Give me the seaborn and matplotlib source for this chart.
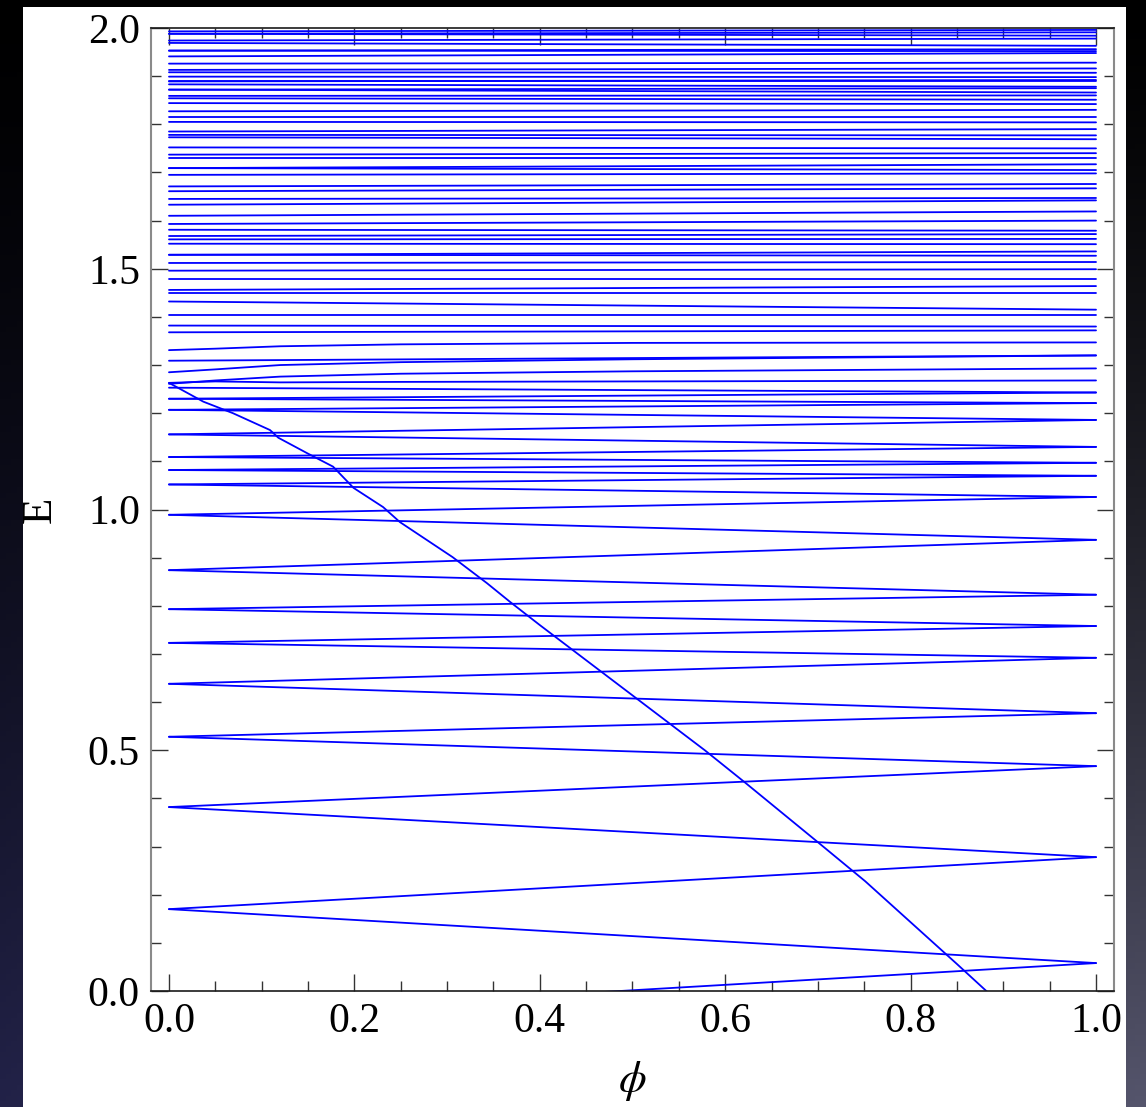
import numpy as np
import pandas as pd
import matplotlib
matplotlib.use("Agg")
import matplotlib.pyplot as plt
import seaborn as sns
from matplotlib.patches import Rectangle

sns.set_theme(style="white")
plt.rcParams["font.family"] = ["Liberation Serif", "DejaVu Serif"]
plt.rcParams["mathtext.fontset"] = "stix"

# ---------------- data ----------------
# lower "zigzag" levels: energies at phi = 0 and at phi = 1
zig_left = [0.170, 0.382, 0.528, 0.638, 0.723, 0.793, 0.874, 0.989,
            1.052, 1.082, 1.109, 1.156, 1.207, 1.230]
zig_right = [0.058, 0.278, 0.467, 0.577, 0.692, 0.758, 0.823, 0.937,
             1.026, 1.070, 1.097, 1.130, 1.186, 1.221, 1.243]

# bottom line entering from below zero
bottom_left = -0.055
bottom_right = 0.058

# dense upper levels: energy at phi = 0 and at phi = 1 for each line
upper_start = [1.993, 1.988, 1.988, 1.974, 1.969, 1.953, 1.953, 1.941, 1.926, 1.913,
               1.908, 1.899, 1.889, 1.889, 1.883, 1.872, 1.872, 1.859, 1.854, 1.844,
               1.827, 1.816, 1.805, 1.785, 1.778, 1.773, 1.752, 1.737, 1.730, 1.709,
               1.709, 1.695, 1.671, 1.661, 1.645, 1.633, 1.610, 1.593, 1.581, 1.568,
               1.561, 1.552, 1.529, 1.529, 1.512, 1.496, 1.478, 1.456, 1.449, 1.432,
               1.403, 1.382, 1.368, 1.309, 1.253]
upper_end = [1.996, 1.991, 1.984, 1.978, 1.963, 1.956, 1.952, 1.948, 1.928, 1.916,
             1.907, 1.898, 1.892, 1.889, 1.878, 1.875, 1.866, 1.860, 1.851, 1.842,
             1.830, 1.816, 1.804, 1.790, 1.777, 1.769, 1.750, 1.740, 1.730, 1.717,
             1.705, 1.698, 1.676, 1.667, 1.647, 1.642, 1.619, 1.600, 1.579, 1.572,
             1.562, 1.551, 1.536, 1.527, 1.514, 1.499, 1.478, 1.464, 1.449, 1.415,
             1.403, 1.380, 1.372, 1.320, 1.243]

# levels near phi = 0 that bend upward (phi, E) before running flat
bend_phi = [0.00, 0.05, 0.12, 0.25, 0.50, 1.00]
bend_a_E = [1.331, 1.334, 1.339, 1.343, 1.346, 1.347]
bend_b_E = [1.285, 1.291, 1.300, 1.306, 1.312, 1.320]
bend_c_E = [1.261, 1.268, 1.276, 1.282, 1.287, 1.293]
bend_d_E = [1.263, 1.266, 1.264, 1.265, 1.266, 1.268]

# the state crossing the spectrum diagonally
diag_phi = [0.000, 0.037, 0.069, 0.109, 0.118, 0.149, 0.177, 0.199, 0.231, 0.249,
            0.306, 0.343, 0.368, 0.400, 0.578, 0.622, 0.700, 0.751, 0.850, 0.893]
diag_E = [1.263, 1.224, 1.200, 1.165, 1.149, 1.117, 1.089, 1.045, 1.005, 0.974,
          0.901, 0.847, 0.808, 0.760, 0.500, 0.432, 0.309, 0.228, 0.056, -0.020]

x_ticks = [0.0, 0.2, 0.4, 0.6, 0.8, 1.0]
y_ticks = [0.0, 0.5, 1.0, 1.5, 2.0]

# ---------------- long-form table ----------------
rows = []
seg = 0
for k, a in enumerate(zig_left):
    for b in (zig_right[k], zig_right[k + 1]):
        rows += [(seg, 0.0, a), (seg, 1.0, b)]
        seg += 1
for a, b in zip(upper_start, upper_end):
    rows += [(seg, 0.0, a), (seg, 1.0, b)]
    seg += 1
rows += [(seg, 0.0, bottom_left), (seg, 1.0, bottom_right)]
seg += 1
for curve in (bend_a_E, bend_b_E, bend_c_E, bend_d_E):
    for p, e in zip(bend_phi, curve):
        rows.append((seg, p, e))
    seg += 1
for p, e in zip(diag_phi, diag_E):
    rows.append((seg, p, e))
df = pd.DataFrame(rows, columns=["seg", "phi", "E"])

# ---------------- figure ----------------
W, H = 1146, 1107
fig = plt.figure(figsize=(W / 100, H / 100), dpi=100)

bg = fig.add_axes([0, 0, 1, 1], zorder=-10)
ny, nx = 200, 200
ty = np.linspace(0, 1, ny)[:, None, None]
tx = np.linspace(0, 1, nx)[None, :, None]
col_left = np.array([0x22, 0x22, 0x48]) / 255
col_right = np.array([0x55, 0x55, 0x6c]) / 255
img = ty ** 1.3 * (col_left * (1 - tx) + col_right * tx)
bg.imshow(img, aspect="auto", extent=[0, 1, 0, 1], origin="upper")
bg.add_patch(Rectangle((23 / W, 0), (1126 - 23) / W, (H - 7) / H,
                       transform=bg.transAxes, facecolor="white", edgecolor="none"))
bg.set_xlim(0, 1)
bg.set_ylim(0, 1)
bg.axis("off")

ax = fig.add_axes([151 / W, (H - 991) / H, (1114 - 151) / W, (991 - 28) / H])
ax.set_facecolor("white")
sns.lineplot(data=df, x="phi", y="E", units="seg", estimator=None, sort=False,
             color="#0000ff", linewidth=1.3, ax=ax, legend=False)

ax.set_xlim(-0.0194, 1.0194)
ax.set_ylim(0, 2)
ax.set_xticks(x_ticks)
ax.set_xticklabels([f"{v:.1f}" for v in x_ticks])
ax.set_yticks(y_ticks)
ax.set_yticklabels([f"{v:.1f}" for v in y_ticks])
ax.set_xticks(np.arange(0, 1.0001, 0.05), minor=True)
ax.set_yticks(np.arange(0, 2.0001, 0.1), minor=True)

ax.tick_params(which="both", direction="in", top=True, right=True,
               bottom=True, left=True, color="#333333", width=1.0)
ax.tick_params(which="major", length=12)
ax.tick_params(which="minor", length=7)
ax.tick_params(axis="x", which="major", labelsize=30, pad=8, labelcolor="black")
ax.tick_params(axis="y", which="major", labelsize=30, pad=8, labelcolor="black")

for side in ("left", "right"):
    ax.spines[side].set_color("#8a8a8a")
    ax.spines[side].set_linewidth(1.5)
for side in ("top", "bottom"):
    ax.spines[side].set_color("#1a1a1a")
    ax.spines[side].set_linewidth(1.2)

ax.set_xlabel(r"$\phi$", fontsize=32, color="black")
ax.set_ylabel("E", fontsize=31, color="black")
ax.xaxis.set_label_coords((632 - 151) / 963, (991 - 1081) / 963)
ax.xaxis.label.set_verticalalignment("center")
ax.yaxis.set_label_coords((40 - 151) / 963, (991 - 510) / 963)
ax.yaxis.label.set_verticalalignment("center")

fig.savefig("out.png", dpi=100)
